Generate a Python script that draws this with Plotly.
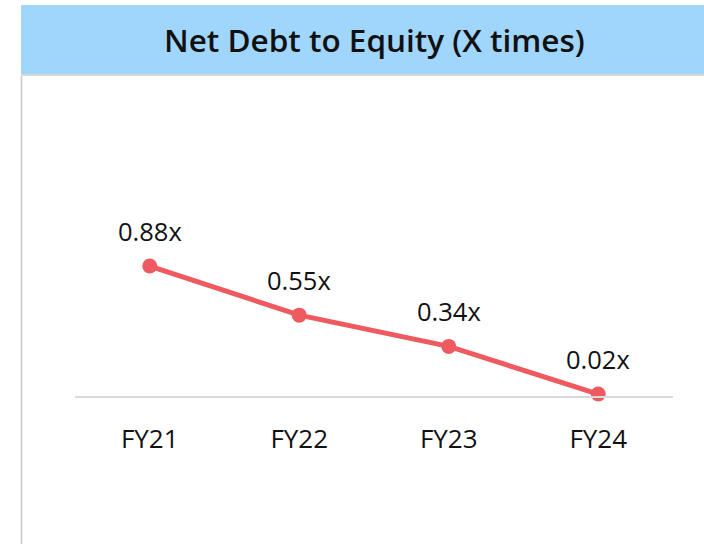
import plotly.graph_objects as go

categories = ["FY21", "FY22", "FY23", "FY24"]
values = [0.88, 0.55, 0.34, 0.02]
labels = ["0.88x", "0.55x", "0.34x", "0.02x"]
title = "Net Debt to Equity (X times)"

W, H = 704, 544
font_family = "Open Sans, Noto Sans, sans-serif"

fig = go.Figure()
fig.add_trace(go.Scatter(
    x=categories, y=values, mode="lines+markers",
    line=dict(color="#EE5A5F", width=5),
    marker=dict(color="#EE5A5F", size=15),
    hoverinfo="skip", showlegend=False,
))
for c, v, t in zip(categories, values, labels):
    fig.add_annotation(x=c, y=v, text=t, showarrow=False, yshift=35,
                       font=dict(size=25.5, color="#111111", family=font_family))

y_top, y_bot, y_zero = 100, 520, 397
ppu = 148.8
rng = [-(y_bot - y_zero) / ppu, (y_zero - y_top) / ppu]

fig.update_layout(
    width=W, height=H,
    margin=dict(l=0, r=0, t=0, b=0),
    paper_bgcolor="white", plot_bgcolor="white",
    xaxis=dict(
        domain=[75 / W, 673 / W], anchor="free", position=(H - y_zero) / H,
        type="category", range=[-0.5, len(categories) - 0.5],
        showgrid=False, zeroline=False, showline=True, linecolor="#D9D9D9", linewidth=2,
        ticks="outside", ticklen=0, ticklabelstandoff=19,
        tickfont=dict(size=26, color="#111111", family=font_family),
        fixedrange=True,
    ),
    yaxis=dict(
        domain=[(H - y_bot) / H, (H - y_top) / H], range=rng,
        showgrid=False, zeroline=False, showticklabels=False, showline=False,
        fixedrange=True,
    ),
    shapes=[
        dict(type="rect", xref="paper", yref="paper", x0=21 / W, x1=1, y0=1 - 74 / H, y1=1 - 5 / H,
             fillcolor="#A0D6FC", line=dict(width=0), layer="below"),
        dict(type="line", xref="paper", yref="paper", x0=21 / W, x1=1, y0=1 - 75 / H, y1=1 - 75 / H,
             line=dict(color="#D9D9D9", width=2)),
        dict(type="line", xref="paper", yref="paper", x0=21.5 / W, x1=21.5 / W, y0=0, y1=1 - 76 / H,
             line=dict(color="#C8C8C8", width=1.5)),
    ],
    annotations=list(fig.layout.annotations) + [
        dict(text=title, xref="paper", yref="paper",
             x=374 / W, y=1 - 40 / H, showarrow=False,
             font=dict(size=31.5, color="#111111", family=font_family, weight=600),
             xanchor="center", yanchor="middle"),
    ],
)

fig.write_html("out.html", config={"displayModeBar": False},
               post_script="document.body.style.margin='0';document.body.style.overflow='hidden';")
